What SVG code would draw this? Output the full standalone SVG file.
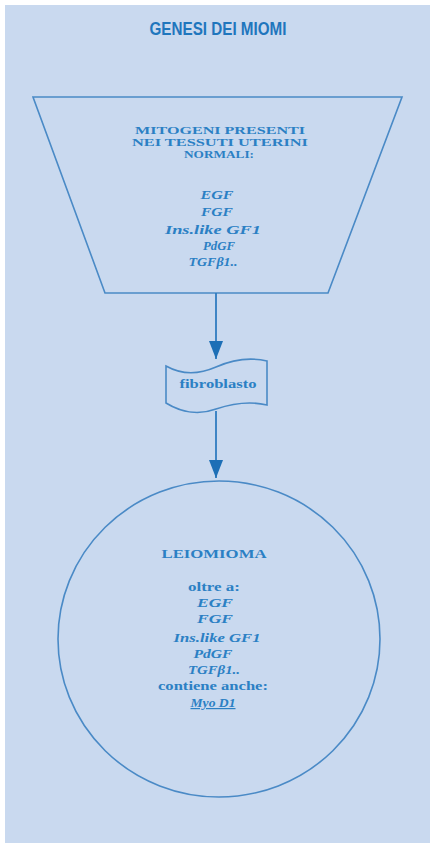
<svg xmlns="http://www.w3.org/2000/svg" width="430" height="847" viewBox="0 0 430 847">
<defs>
<style>
.bg{fill:#c9d9ef}
.shape{fill:none;stroke:#4a8ac6;stroke-width:1.6}
.conn{stroke:#2f7cc0;stroke-width:1.8;fill:none}
.t{font-family:"Liberation Serif","Times New Roman",serif;font-weight:bold;fill:#2b80c4;text-anchor:middle;font-size:12px}
.h{font-size:10.5px}
.i{font-style:italic}
.title{font-family:"Liberation Sans","Arial",sans-serif;font-weight:bold;fill:#1f76bd;text-anchor:middle;font-size:18px}
</style>
<marker id="ah" viewBox="0 0 18 14" refX="18" refY="7" markerWidth="18" markerHeight="14" markerUnits="userSpaceOnUse" orient="auto">
<path d="M0,0 L18,7 L0,14 Z" fill="#1d6fb6"/>
</marker>
</defs>
<rect x="0" y="0" width="430" height="847" fill="#ffffff"/>
<rect class="bg" x="5" y="5" width="425" height="838"/>
<text class="title" x="218" y="35" textLength="137" lengthAdjust="spacingAndGlyphs">GENESI DEI MIOMI</text>
<g id="mitogeni">
<path class="shape" d="M33,97 L402,97 L328,293 L105,293 Z"/>
<text class="t h" x="220" y="134" textLength="170" lengthAdjust="spacingAndGlyphs">MITOGENI PRESENTI</text>
<text class="t h" x="220" y="146" textLength="176" lengthAdjust="spacingAndGlyphs">NEI TESSUTI UTERINI</text>
<text class="t h" x="219" y="158" textLength="70" lengthAdjust="spacingAndGlyphs">NORMALI:</text>
<text class="t i" x="217" y="199" textLength="33" lengthAdjust="spacingAndGlyphs">EGF</text>
<text class="t i" x="217" y="216" textLength="32" lengthAdjust="spacingAndGlyphs">FGF</text>
<text class="t i" x="213" y="234" textLength="96" lengthAdjust="spacingAndGlyphs">Ins.like GF1</text>
<text class="t i" x="219" y="250" textLength="32" lengthAdjust="spacingAndGlyphs">PdGF</text>
<text class="t i" x="213" y="266" textLength="49" lengthAdjust="spacingAndGlyphs">TGFβ1..</text>
</g>
<g id="connectors">
<line class="conn" x1="216" y1="293" x2="216" y2="359" marker-end="url(#ah)"/>
<line class="conn" x1="216" y1="411" x2="216" y2="478" marker-end="url(#ah)"/>
</g>
<g id="fibroblasto">
<path class="shape" d="M166,366 C182,375 200,374 216,367 C234,359 250,357 267,361 L267,405 C250,401 234,403 216,409 C200,415 182,413 166,403 Z"/>
<text class="t" x="218" y="388" textLength="77" lengthAdjust="spacingAndGlyphs">fibroblasto</text>
</g>
<g id="leiomioma">
<ellipse class="shape" cx="219" cy="639" rx="161" ry="158"/>
<text class="t" x="214" y="558" textLength="105" lengthAdjust="spacingAndGlyphs">LEIOMIOMA</text>
<text class="t" x="214" y="591" textLength="52" lengthAdjust="spacingAndGlyphs">oltre a:</text>
<text class="t i" x="215" y="607" textLength="36" lengthAdjust="spacingAndGlyphs">EGF</text>
<text class="t i" x="215" y="623" textLength="36" lengthAdjust="spacingAndGlyphs">FGF</text>
<text class="t i" x="217" y="642" textLength="87" lengthAdjust="spacingAndGlyphs">Ins.like GF1</text>
<text class="t i" x="213" y="658" textLength="39" lengthAdjust="spacingAndGlyphs">PdGF</text>
<text class="t i" x="214" y="674" textLength="52" lengthAdjust="spacingAndGlyphs">TGFβ1..</text>
<text class="t" x="213" y="690" textLength="110" lengthAdjust="spacingAndGlyphs">contiene anche:</text>
<text class="t i" x="213" y="707" textLength="45" lengthAdjust="spacingAndGlyphs" text-decoration="underline">Myo D1</text>
</g>
</svg>
